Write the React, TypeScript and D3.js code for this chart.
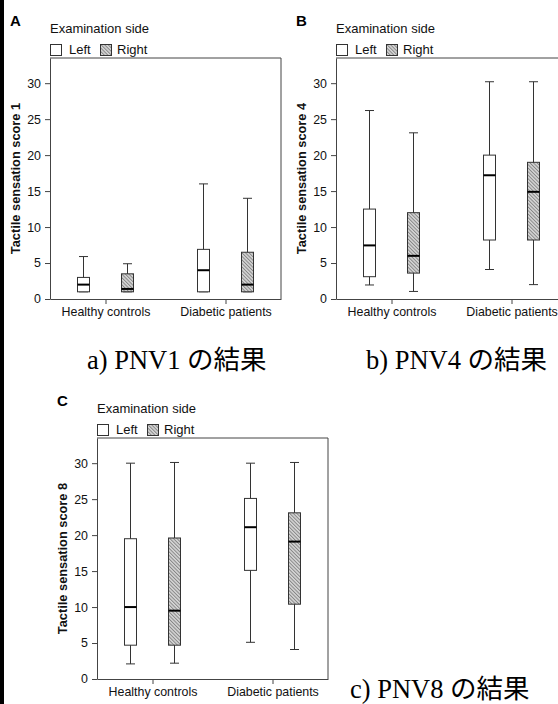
import React, { useEffect, useRef } from "react";
import * as d3 from "d3";

const categories = ["Healthy controls", "Diabetic patients"];
const sides = ["Left", "Right"];
const yTicks = [0, 5, 10, 15, 20, 25, 30];

// [low whisker, Q1, median, Q3, high whisker] for each category
const pnv1Left = [[1, 1, 2, 3, 5.9], [1, 1, 4, 6.9, 16]];
const pnv1Right = [[1, 1, 1.4, 3.5, 4.9], [1, 1, 2, 6.5, 14]];
const pnv4Left = [[1.95, 3.1, 7.45, 12.5, 26.2], [4.1, 8.2, 17.2, 20, 30.2]];
const pnv4Right = [[1.05, 3.6, 6, 12, 23.1], [2, 8.2, 14.9, 19, 30.2]];
const pnv8Left = [[2.1, 4.7, 10, 19.5, 30], [5.1, 15.1, 21.1, 25.1, 30]];
const pnv8Right = [[2.2, 4.7, 9.5, 19.6, 30.1], [4.1, 10.4, 19.1, 23.1, 30.1]];

const letters = ["A", "B", "C"];
const scoreLabels = ["Tactile sensation score 1", "Tactile sensation score 4", "Tactile sensation score 8"];
const captions = ["a) PNV1 の結果", "b) PNV4 の結果", "c) PNV8 の結果"];

const sans = "'Liberation Sans', Arial, sans-serif";
const serif = "'Liberation Serif', 'Times New Roman', 'Noto Sans CJK JP', serif";

const W = 231;
const H = 241;

const App = () => {
  const ref = useRef<SVGSVGElement>(null);

  useEffect(() => {
    const svg = d3.select(ref.current);
    svg.selectAll("*").remove();

    const defs = svg.append("defs");
    const pat = defs
      .append("pattern")
      .attr("id", "hatch")
      .attr("patternUnits", "userSpaceOnUse")
      .attr("width", 2.5)
      .attr("height", 2.5)
      .attr("patternTransform", "rotate(-45)");
    pat.append("rect").attr("width", 2.5).attr("height", 2.5).attr("fill", "#d6d6d6");
    pat.append("line").attr("x1", 0.5).attr("y1", 0).attr("x2", 0.5).attr("y2", 2.5)
      .attr("stroke", "#808080").attr("stroke-width", 0.9);

    svg.append("rect").attr("width", 558).attr("height", 704).attr("fill", "#fff");
    svg.append("rect").attr("width", 4).attr("height", 704).attr("fill", "#000");

    const layout = [
      { x: 50, y: 58, left: pnv1Left, right: pnv1Right },
      { x: 336, y: 58, left: pnv4Left, right: pnv4Right },
      { x: 97, y: 438, left: pnv8Left, right: pnv8Right },
    ];

    layout.forEach((p, i) => {
      const g = svg.append("g").attr("transform", `translate(${p.x},${p.y})`);

      const x = d3.scalePoint().domain(categories).range([0, W]).padding(0.4625);
      const off = d3.scalePoint().domain(sides).range([-22, 22]);
      const y = d3.scaleLinear().domain([0, 33.5]).range([H, 0]);

      g.append("path")
        .attr("d", `M0,0H${W}V${H}`)
        .attr("fill", "none")
        .attr("stroke", "#444");

      const yAxis = g.append("g")
        .call(d3.axisLeft(y).tickValues(yTicks).tickSize(5).tickPadding(4).tickSizeOuter(0));
      const xAxis = g.append("g")
        .attr("transform", `translate(0,${H})`)
        .call(d3.axisBottom(x).tickSize(5).tickPadding(3).tickSizeOuter(0));

      [yAxis, xAxis].forEach((a) => {
        a.selectAll("path, line").attr("stroke", "#444");
        a.selectAll("text")
          .attr("fill", "#111")
          .style("font-family", sans)
          .style("font-size", "12.4px");
      });

      g.append("text")
        .attr("transform", `translate(-30,${H / 2}) rotate(-90)`)
        .attr("text-anchor", "middle")
        .style("font-family", sans)
        .style("font-size", "12.8px")
        .style("font-weight", "bold")
        .attr("fill", "#111")
        .text(scoreLabels[i]);

      g.append("text")
        .attr("x", -40)
        .attr("y", -32)
        .style("font-family", sans)
        .style("font-size", "15px")
        .style("font-weight", "bold")
        .attr("fill", "#000")
        .text(letters[i]);

      // legend
      const lg = g.append("g").style("font-family", sans).style("font-size", "13px");
      lg.append("text").attr("x", 0).attr("y", -25).attr("fill", "#111").text("Examination side");
      lg.append("rect").attr("x", 0.5).attr("y", -13.5).attr("width", 11).attr("height", 11)
        .attr("fill", "#fff").attr("stroke", "#333");
      lg.append("text").attr("x", 19).attr("y", -4).attr("fill", "#111").text(sides[0]);
      lg.append("rect").attr("x", 50.5).attr("y", -13.5).attr("width", 11).attr("height", 11)
        .attr("fill", "url(#hatch)").attr("stroke", "#333");
      lg.append("text").attr("x", 67).attr("y", -4).attr("fill", "#111").text(sides[1]);

      const series = [p.left, p.right];
      series.forEach((vals, si) => {
        vals.forEach((d, ci) => {
          const cx = x(categories[ci])! + off(sides[si])!;
          const [lo, q1, med, q3, hi] = d;
          const bw = 12;
          const cw = 9;
          g.append("line")
            .attr("x1", cx).attr("x2", cx).attr("y1", y(lo)).attr("y2", y(hi))
            .attr("stroke", "#333");
          g.append("line")
            .attr("x1", cx - cw / 2).attr("x2", cx + cw / 2).attr("y1", y(hi)).attr("y2", y(hi))
            .attr("stroke", "#333");
          g.append("line")
            .attr("x1", cx - cw / 2).attr("x2", cx + cw / 2).attr("y1", y(lo)).attr("y2", y(lo))
            .attr("stroke", "#333");
          g.append("rect")
            .attr("x", cx - bw / 2).attr("y", y(q3))
            .attr("width", bw).attr("height", y(q1) - y(q3))
            .attr("fill", si === 0 ? "#fff" : "url(#hatch)")
            .attr("stroke", "#333");
          g.append("line")
            .attr("x1", cx - bw / 2).attr("x2", cx + bw / 2).attr("y1", y(med)).attr("y2", y(med))
            .attr("stroke", "#000").attr("stroke-width", 2);
        });
      });
    });

    const capPos = [
      [87, 369],
      [366, 369],
      [350, 698],
    ];
    captions.forEach((c, i) => {
      svg.append("text")
        .attr("x", capPos[i][0])
        .attr("y", capPos[i][1])
        .style("font-family", serif)
        .style("font-size", "26.5px")
        .attr("fill", "#000")
        .text(c);
    });
  }, []);

  return (
    <svg
      ref={ref}
      width={558}
      height={704}
      style={{ position: "absolute", left: 0, top: 0 }}
    ></svg>
  );
};

export default App;
